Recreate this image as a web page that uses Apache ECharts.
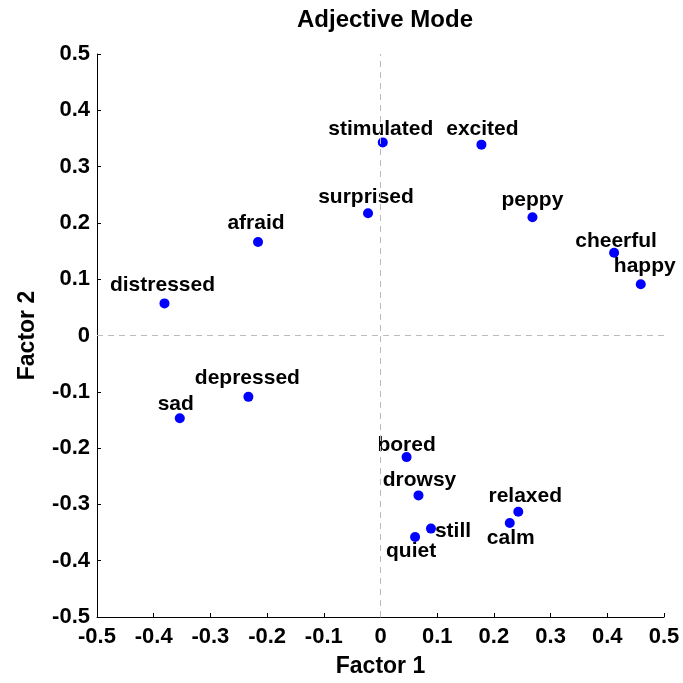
<!DOCTYPE html>
<html>
<head>
<meta charset="utf-8">
<script src="https://cdn.jsdelivr.net/npm/echarts@6/dist/echarts.min.js"></script>
<style>
html,body{margin:0;padding:0;background:#fff;}
#chart{width:683px;height:683px;}
</style>
</head>
<body>
<div id="chart"></div>
<script>
var names = ['stimulated','excited','surprised','peppy','afraid','cheerful','happy','distressed','depressed','sad','bored','drowsy','relaxed','calm','still','quiet'];
var factor1 = [0.004, 0.178, -0.022, 0.268, -0.216, 0.412, 0.459, -0.381, -0.233, -0.354, 0.046, 0.067, 0.243, 0.228, 0.089, 0.061];
var factor2 = [0.343, 0.339, 0.217, 0.210, 0.166, 0.147, 0.091, 0.057, -0.109, -0.147, -0.216, -0.284, -0.313, -0.333, -0.343, -0.358];
var xTicks = [-0.5, -0.4, -0.3, -0.2, -0.1, 0, 0.1, 0.2, 0.3, 0.4, 0.5];
var yTicks = [-0.5, -0.4, -0.3, -0.2, -0.1, 0, 0.1, 0.2, 0.3, 0.4, 0.5];
// label placement (pixel offsets from each dot), styling only
var labelOffsets = [[-2,-13],[1,-15],[-2,-16],[0,-17],[-2,-19],[2,-12],[4,-18],[-2,-18],[-1,-19],[-4,-14],[0,-12],[1,-15],[7,-16],[1,15],[22,3],[-4,14]];

var FONT = 'Liberation Sans, Arial, Helvetica, sans-serif';
var data = names.map(function(n, i){
  return { name: n, value: [factor1[i], factor2[i]], label: { offset: labelOffsets[i] } };
});

var chart = echarts.init(document.getElementById('chart'), null, {renderer:'canvas'});
var axisCommon = {
  min: xTicks[0], max: xTicks[xTicks.length-1], interval: 0.1,
  axisLine: { show: true, onZero: false, lineStyle: { color: '#000', width: 1 } },
  axisTick: { show: true, inside: true, length: 4, lineStyle: { color: '#000' } },
  splitLine: { show: false },
  nameTextStyle: { fontFamily: FONT, fontSize: 23, fontWeight: 'bold', color: '#000' },
  axisLabel: { fontFamily: FONT, fontSize: 22, fontWeight: 'bold', color: '#000',
    formatter: function(v){ return String(Math.round(v*10)/10); } }
};
chart.setOption({
  animation: false,
  backgroundColor: '#fff',
  title: { text: 'Adjective Mode', left: 380, textAlign: 'center', top: 3,
    textStyle: { fontFamily: FONT, fontSize: 24, fontWeight: 'bold', color: '#000' } },
  grid: { left: 97, right: 19, top: 54, bottom: 66, containLabel: false, outerBoundsMode: 'none' },
  xAxis: Object.assign({}, axisCommon, { type: 'value', name: 'Factor 1', nameLocation: 'middle', nameGap: 38,
    axisLabel: Object.assign({}, axisCommon.axisLabel, { margin: 9 }) }),
  yAxis: Object.assign({}, axisCommon, { type: 'value', name: 'Factor 2', nameLocation: 'middle', nameGap: 58, nameRotate: 90,
    min: yTicks[0], max: yTicks[yTicks.length-1],
    axisLabel: Object.assign({}, axisCommon.axisLabel, { margin: 7 }) }),
  series: [{
    type: 'scatter',
    symbol: 'circle',
    symbolSize: 10,
    itemStyle: { color: '#0000ff', opacity: 1 },
    label: { show: true, position: 'inside', formatter: '{b}',
      fontFamily: FONT, fontSize: 21, fontWeight: 'bold', color: '#000', opacity: 1, textBorderWidth: 0 },
    emphasis: { disabled: true },
    data: data,
    markLine: {
      silent: true, symbol: 'none', label: { show: false },
      lineStyle: { color: '#bbbbbb', type: [6, 5], width: 1, opacity: 1 },
      data: [{ xAxis: 0 }, { yAxis: 0 }]
    },
    z: 3
  }]
});
</script>
</body>
</html>
